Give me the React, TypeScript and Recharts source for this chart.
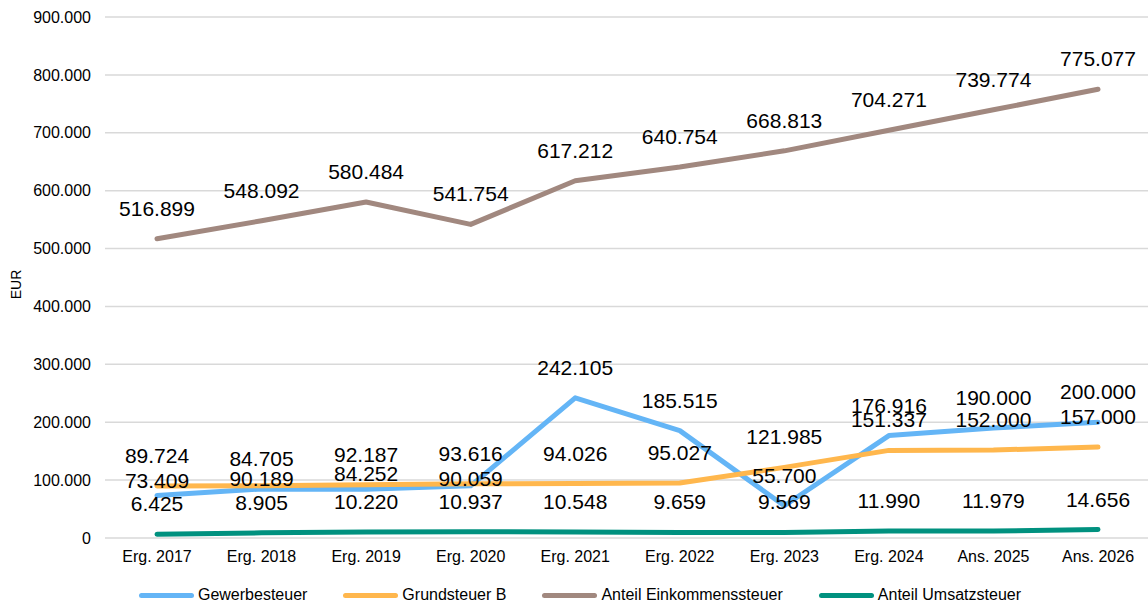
import { LineChart, Line, XAxis, YAxis, CartesianGrid, Legend, LabelList } from 'recharts';

// Kategorien und Werte (EUR)
const categories = ['Erg. 2017', 'Erg. 2018', 'Erg. 2019', 'Erg. 2020', 'Erg. 2021', 'Erg. 2022', 'Erg. 2023', 'Erg. 2024', 'Ans. 2025', 'Ans. 2026'];
const gewerbesteuer = [73409, 84705, 84252, 90059, 242105, 185515, 55700, 176916, 190000, 200000];
const grundsteuerB = [89724, 90189, 92187, 93616, 94026, 95027, 121985, 151337, 152000, 157000];
const einkommensteuer = [516899, 548092, 580484, 541754, 617212, 640754, 668813, 704271, 739774, 775077];
const umsatzsteuer = [6425, 8905, 10220, 10937, 10548, 9659, 9569, 11990, 11979, 14656];
const yTicks = [0, 100000, 200000, 300000, 400000, 500000, 600000, 700000, 800000, 900000];

// label nudges (px) where labels got pushed aside in the original
const gewerbeLabelShift = [15, 0, 15, 23, 0, 0, 0, 0, 0, 0];
const grundLabelShift = [0, 23, 0, 0, 0, 0, 0, 0, 0, 0];

const series = [
  { key: 'gewerbe', name: 'Gewerbesteuer', color: '#64B5F6', shift: gewerbeLabelShift },
  { key: 'grund', name: 'Grundsteuer B', color: '#FFB74D', shift: grundLabelShift },
  { key: 'einkommen', name: 'Anteil Einkommenssteuer', color: '#A1887F', shift: null },
  { key: 'umsatz', name: 'Anteil Umsatzsteuer', color: '#00917F', shift: null },
];

const data = categories.map((c, i) => ({
  name: c,
  gewerbe: gewerbesteuer[i],
  grund: grundsteuerB[i],
  einkommen: einkommensteuer[i],
  umsatz: umsatzsteuer[i],
}));

const FONT = '"Liberation Sans", Arial, sans-serif';

const fmt = (v: number) => String(v).replace(/\B(?=(\d{3})+(?!\d))/g, '.');

const makeLabel = (shift: number[] | null) => (props: any) => {
  const { x, y, value, index } = props;
  const dy = shift ? shift[index] : 0;
  return (
    <text
      x={x}
      y={y - 30.5 + dy}
      textAnchor="middle"
      dominantBaseline="central"
      fontSize={21}
      fontFamily={FONT}
      fill="#000"
    >
      {fmt(value)}
    </text>
  );
};

const renderLegend = () => (
  <div style={{ display: 'flex', justifyContent: 'center', alignItems: 'center', height: 34, fontFamily: FONT, fontSize: 16, color: '#000' }}>
    {series.map((s, i) => (
      <div key={s.key} style={{ display: 'flex', alignItems: 'center', marginLeft: i === 0 ? 0 : 36 }}>
        <div style={{ width: 55, height: 5, borderRadius: 3, background: s.color, marginRight: 4 }} />
        <span>{s.name}</span>
      </div>
    ))}
  </div>
);

export default function App() {
  return (
    <div style={{ position: 'absolute', left: 0, top: 0, width: 1160, height: 612, background: '#fff' }}>
      <LineChart width={1150} height={612} data={data} margin={{ top: 17, right: 0, bottom: 0, left: 0 }}>
        <CartesianGrid vertical={false} stroke="#d9d9d9" strokeWidth={1.5} />
        <XAxis
          dataKey="name"
          axisLine={false}
          tickLine={false}
          tickMargin={7}
          height={40}
          interval={0}
          padding={{ left: 52, right: 52 }}
          tick={{ fill: '#000', fontSize: 16, fontFamily: FONT }}
        />
        <YAxis
          domain={[0, 900000]}
          ticks={yTicks}
          width={105}
          axisLine={false}
          tickLine={false}
          tickMargin={8}
          tickFormatter={fmt}
          tick={{ fill: '#000', fontSize: 16, fontFamily: FONT }}
          label={{
            content: (p: any) => {
              const vb = p.viewBox;
              const cx = 16;
              const cy = vb.y + vb.height / 2 + 7;
              return (
                <text x={cx} y={cy} transform={`rotate(-90, ${cx}, ${cy})`} textAnchor="middle" dominantBaseline="central" fontSize={14} fontFamily={FONT} fill="#000">
                  EUR
                </text>
              );
            },
          }}
        />
        <Legend verticalAlign="bottom" height={34} content={renderLegend} wrapperStyle={{ left: 0, width: 1160 }} />
        {series.map((s) => (
          <Line
            key={s.key}
            dataKey={s.key}
            name={s.name}
            type="linear"
            stroke={s.color}
            strokeWidth={5}
            strokeLinecap="round"
            strokeLinejoin="round"
            dot={false}
            activeDot={false}
            isAnimationActive={false}
          >
            <LabelList dataKey={s.key} content={makeLabel(s.shift)} />
          </Line>
        ))}
      </LineChart>
    </div>
  );
}
